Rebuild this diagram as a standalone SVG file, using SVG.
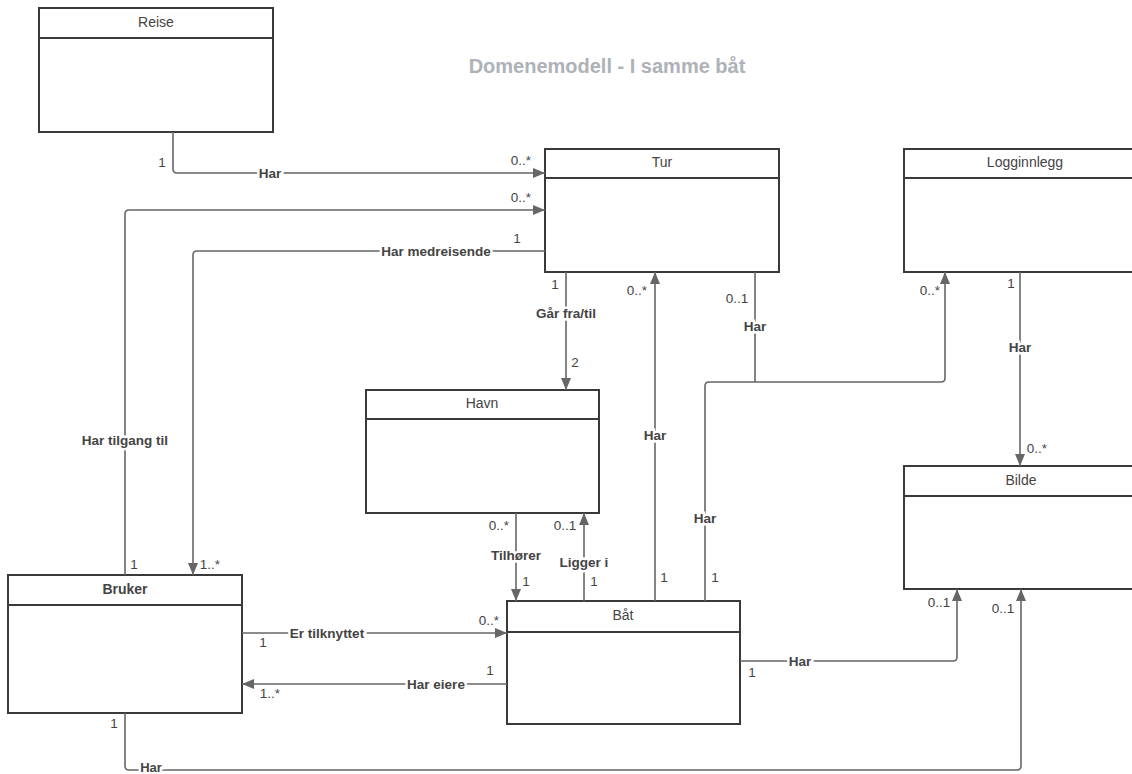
<svg xmlns="http://www.w3.org/2000/svg" width="1132" height="774" viewBox="0 0 1132 774">
  <defs>
    <marker id="arrow" viewBox="0 0 12 10" refX="12" refY="5" markerWidth="12" markerHeight="10" markerUnits="userSpaceOnUse" orient="auto">
      <path d="M0,0 L12,5 L0,10 Z" fill="#666"/>
    </marker>
    <style>
      .box { fill: #fff; stroke: #3a3a3a; stroke-width: 2; }
      .sep { stroke: #3a3a3a; stroke-width: 2; }
      .name { font-family: "Liberation Sans", Arial, sans-serif; font-size: 14px; fill: #444; text-anchor: middle; }
      .bold { font-weight: bold; }
      .edge { fill: none; stroke: #666; stroke-width: 1.6; }
      .lbl { font-family: "Liberation Sans", Arial, sans-serif; font-size: 13.5px; font-weight: bold; fill: #444; text-anchor: middle; stroke: #fff; stroke-width: 5; paint-order: stroke; }
      .mult { font-family: "Liberation Sans", Arial, sans-serif; font-size: 13.5px; fill: #444; text-anchor: middle; }
      .title { font-family: "Liberation Sans", Arial, sans-serif; font-size: 20px; font-weight: bold; fill: #aeb2b8; text-anchor: middle; }
    </style>
  </defs>
  <rect width="1132" height="774" fill="#fff"/>

  <text class="title" x="607" y="73">Domenemodell - I samme båt</text>

  <!-- classes -->
  <g id="reise">
    <rect class="box" x="39" y="8" width="234" height="124"/>
    <line class="sep" x1="39" y1="38" x2="273" y2="38"/>
    <text class="name" x="156" y="27">Reise</text>
  </g>
  <g id="tur">
    <rect class="box" x="545" y="149" width="234" height="123"/>
    <line class="sep" x1="545" y1="178" x2="779" y2="178"/>
    <text class="name" x="662" y="167">Tur</text>
  </g>
  <g id="logginnlegg">
    <rect class="box" x="904" y="149" width="240" height="123"/>
    <line class="sep" x1="904" y1="178" x2="1144" y2="178"/>
    <text class="name" x="1025" y="167">Logginnlegg</text>
  </g>
  <g id="havn">
    <rect class="box" x="366" y="390" width="233" height="123"/>
    <line class="sep" x1="366" y1="419" x2="599" y2="419"/>
    <text class="name" x="482" y="408">Havn</text>
  </g>
  <g id="bilde">
    <rect class="box" x="904" y="466" width="240" height="123"/>
    <line class="sep" x1="904" y1="496" x2="1144" y2="496"/>
    <text class="name" x="1021" y="485">Bilde</text>
  </g>
  <g id="bruker">
    <rect class="box" x="8" y="575" width="234" height="138"/>
    <line class="sep" x1="8" y1="605" x2="242" y2="605"/>
    <text class="name bold" x="125" y="594">Bruker</text>
  </g>
  <g id="baat">
    <rect class="box" x="507" y="601" width="233" height="123"/>
    <line class="sep" x1="507" y1="632" x2="740" y2="632"/>
    <text class="name" x="623" y="620">Båt</text>
  </g>

  <!-- associations -->
  <g id="connectors">
    <path class="edge" d="M173,132 V169 Q173,173 177,173 H545" marker-end="url(#arrow)"/>
    <path class="edge" d="M125,575 V214 Q125,210 129,210 H545" marker-end="url(#arrow)"/>
    <path class="edge" d="M545,251 H197 Q193,251 193,255 V575" marker-end="url(#arrow)"/>
    <path class="edge" d="M566,272 V390" marker-end="url(#arrow)"/>
    <path class="edge" d="M516,513 V601" marker-end="url(#arrow)"/>
    <path class="edge" d="M584,601 V513" marker-end="url(#arrow)"/>
    <path class="edge" d="M655,601 V272" marker-end="url(#arrow)"/>
    <path class="edge" d="M705,601 V386 Q705,382 709,382 H941 Q945,382 945,378 V272" marker-end="url(#arrow)"/>
    <path class="edge" d="M755,272 V382"/>
    <path class="edge" d="M1020,272 V466" marker-end="url(#arrow)"/>
    <path class="edge" d="M242,633 H507" marker-end="url(#arrow)"/>
    <path class="edge" d="M507,684 H242" marker-end="url(#arrow)"/>
    <path class="edge" d="M740,661 H953 Q957,661 957,657 V589" marker-end="url(#arrow)"/>
    <path class="edge" d="M125,713 V766 Q125,770 129,770 H1017 Q1021,770 1021,766 V589" marker-end="url(#arrow)"/>

    <!-- role names -->
    <text class="lbl" x="270" y="178">Har</text>
    <text class="lbl" x="436" y="256">Har medreisende</text>
    <text class="lbl" x="125" y="445">Har tilgang til</text>
    <text class="lbl" x="566" y="318">Går fra/til</text>
    <text class="lbl" x="516" y="560">Tilhører</text>
    <text class="lbl" x="584" y="567">Ligger i</text>
    <text class="lbl" x="655" y="440">Har</text>
    <text class="lbl" x="705" y="523">Har</text>
    <text class="lbl" x="755" y="331">Har</text>
    <text class="lbl" x="1020" y="352">Har</text>
    <text class="lbl" x="327" y="638">Er tilknyttet</text>
    <text class="lbl" x="436" y="689">Har eiere</text>
    <text class="lbl" x="800" y="666">Har</text>
    <text class="lbl" x="151" y="772" style="font-size:13px">Har</text>

    <!-- multiplicities -->
    <text class="mult" x="162" y="167">1</text>
    <text class="mult" x="521" y="165">0..*</text>
    <text class="mult" x="521" y="202">0..*</text>
    <text class="mult" x="517" y="243">1</text>
    <text class="mult" x="134" y="569">1</text>
    <text class="mult" x="210" y="569">1..*</text>
    <text class="mult" x="555" y="289">1</text>
    <text class="mult" x="575" y="367">2</text>
    <text class="mult" x="637" y="295">0..*</text>
    <text class="mult" x="737" y="303">0..1</text>
    <text class="mult" x="930" y="295">0..*</text>
    <text class="mult" x="1011" y="288">1</text>
    <text class="mult" x="1037" y="453">0..*</text>
    <text class="mult" x="664" y="582">1</text>
    <text class="mult" x="715" y="582">1</text>
    <text class="mult" x="499" y="530">0..*</text>
    <text class="mult" x="565" y="530">0..1</text>
    <text class="mult" x="526" y="586">1</text>
    <text class="mult" x="594" y="586">1</text>
    <text class="mult" x="263" y="647">1</text>
    <text class="mult" x="489" y="625">0..*</text>
    <text class="mult" x="490" y="675">1</text>
    <text class="mult" x="270" y="698">1..*</text>
    <text class="mult" x="114" y="728">1</text>
    <text class="mult" x="752" y="677">1</text>
    <text class="mult" x="939" y="607">0..1</text>
    <text class="mult" x="1003" y="613">0..1</text>
  </g>
</svg>
